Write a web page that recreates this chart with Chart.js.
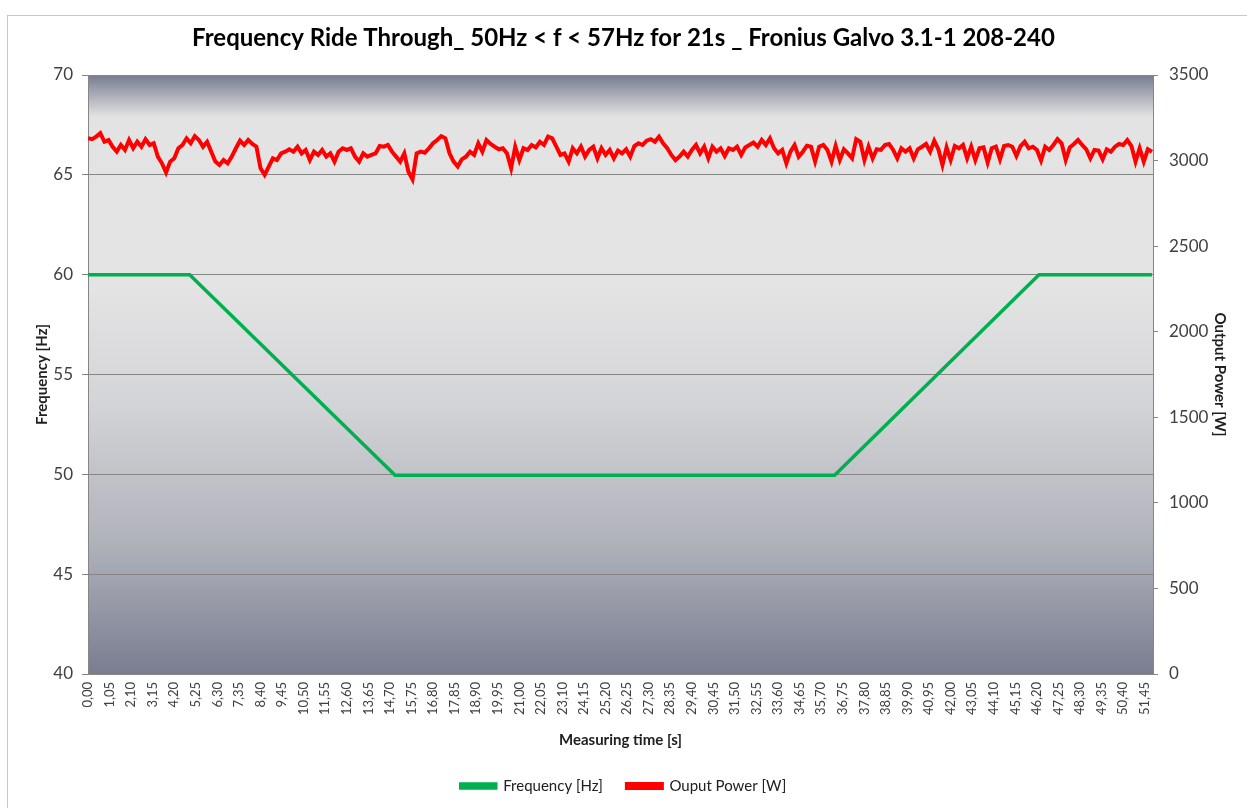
<!DOCTYPE html>
<html>
<head>
<meta charset="utf-8">
<script src="https://cdn.jsdelivr.net/npm/chart.js@4/dist/chart.umd.min.js"></script>
<style>
  html, body { margin: 0; padding: 0; background: #fff; }
  #wrap { position: relative; width: 1247px; height: 808px; }
</style>
</head>
<body>
<div id="wrap"><canvas id="myChart" width="1247" height="808"></canvas></div>
<script>
// frequency profile (s, Hz)
const freqTime = [0, 4.95, 14.95, 36.35, 46.3, 51.8]
const freqHz = [60, 60, 49.95, 49.95, 60, 60]

// output power, one reading every 0.2 s from 0 s (W)
const powerStep = 0.2
const powerW = [
  3130,3125,3140,3160,3110,3120,3081,3052,3091,3062,
  3120,3072,3110,3081,3125,3091,3101,3023,2984,2930,
  2994,3013,3072,3091,3130,3101,3143,3120,3081,3110,
  3052,2994,2974,3003,2984,3023,3072,3116,3091,3120,
  3097,3081,2955,2916,2965,3013,3003,3042,3052,3066,
  3052,3081,3042,3062,3003,3052,3033,3062,3023,3042,
  2994,3052,3072,3062,3072,3023,2994,3042,3023,3033,
  3042,3085,3081,3091,3052,3023,2994,3042,2935,2890,
  3042,3052,3046,3072,3101,3120,3143,
  3130,3042,2994,
  2965,3007,3023,3052,3033,3101,3052,3120,3097,3081,
  3066,3072,3042,2955,3081,3003,3072,3062,3091,3077,
  3110,3091,3140,3130,3081,3033,3042,2994,3072,3042,
  3081,3023,3062,3081,3013,3072,3033,3062,3013,3058,
  3042,3066,3023,3085,3101,3091,3116,3125,3110,3140,
  3101,3072,3033,3003,3023,3052,3023,3062,3091,3042,
  3081,3013,3081,3052,3072,3027,3072,3062,3081,3033,
  3077,3091,3105,3081,3120,3091,3130,3072,3042,3062,
  2984,3052,3091,3023,
  3052,3087,3081,2994,3081,3091,
  3062,2994,3085,3003,3066,3042,3013,3125,3110,3003,
  3081,3013,3066,3062,3091,3097,3062,3013,3072,3052,
  3072,3013,3066,3081,3097,3052,3116,3066,2974,3077,
  3003,3085,3072,3091,3013,3081,3003,3072,3077,2988,
  3072,3081,3007,3085,3091,3081,3027,3085,3110,3072,
  3081,3062,3000,3081,3062,3091,3125,3101,3003,3077,
  3097,3120,3091,3066,3013,3062,3058,3007,3066,3052,
  3081,3097,3091,3120,3085,2994,3072,2994,3066,3052
]

const xTickValues = [
  0, 1.05, 2.10, 3.15, 4.20, 5.25, 6.30, 7.35, 8.40, 9.45,
  10.50, 11.55, 12.60, 13.65, 14.70, 15.75, 16.80, 17.85, 18.90, 19.95,
  21.00, 22.05, 23.10, 24.15, 25.20, 26.25, 27.30, 28.35, 29.40, 30.45,
  31.50, 32.55, 33.60, 34.65, 35.70, 36.75, 37.80, 38.85, 39.90, 40.95,
  42.00, 43.05, 44.10, 45.15, 46.20, 47.25, 48.30, 49.35, 50.40, 51.45
]

const freqPoints = freqTime.map((t, i) => ({x: t, y: freqHz[i]}))
const powerPoints = powerW.map((w, i) => ({x: +(i * powerStep).toFixed(2), y: w}))

const axisGray = '#868686'
const tickColor = '#404040'
const titleFont = {family: 'Lato', size: 15, weight: 'bold'}

const plotBackground = {
  id: 'plotBackground',
  beforeDraw(chart) {
    const {ctx, chartArea: a} = chart
    ctx.save()
    ctx.strokeStyle = '#c8c8c8'
    ctx.lineWidth = 1
    ctx.strokeRect(7.5, 15.5, 1300, 900)
    const g = ctx.createLinearGradient(0, a.top, 0, a.bottom)
    g.addColorStop(0, '#767b8f')
    g.addColorStop(0.07, '#e3e3e3')
    g.addColorStop(0.35, '#e4e4e4')
    g.addColorStop(0.55, '#d3d4d7')
    g.addColorStop(0.78, '#b0b2ba')
    g.addColorStop(1, '#797d90')
    ctx.fillStyle = g
    ctx.fillRect(a.left, a.top, a.right - a.left, a.bottom - a.top)
    ctx.restore()
  }
}

const ctx = document.getElementById('myChart').getContext('2d')
const myChart = new Chart(ctx, {
  type: 'line',
  data: {
    datasets: [
      {
        label: 'Frequency [Hz]',
        data: freqPoints,
        yAxisID: 'y',
        borderColor: '#00b050',
        backgroundColor: '#00b050',
        borderWidth: 3.5,
        pointRadius: 0,
        tension: 0
      },
      {
        label: 'Ouput Power [W]',
        data: powerPoints,
        yAxisID: 'y1',
        borderColor: '#ff0000',
        backgroundColor: '#ff0000',
        borderWidth: 4,
        pointRadius: 0,
        tension: 0
      }
    ]
  },
  options: {
    responsive: false,
    animation: false,
    devicePixelRatio: 1,
    layout: {padding: {left: 10, right: 10, top: 0, bottom: 4.5}},
    plugins: {
      title: {
        display: true,
        text: 'Frequency Ride Through_ 50Hz < f < 57Hz for 21s _ Fronius Galvo 3.1-1 208-240',
        color: '#000',
        font: {family: 'Lato', size: 24, weight: 'bold'},
        padding: {top: 23.6, bottom: 22.6}
      },
      legend: {
        position: 'bottom',
        labels: {
          color: '#202020',
          font: {family: 'Lato', size: 15},
          boxWidth: 35,
          boxHeight: 4,
          padding: 24
        }
      },
      tooltip: {enabled: false}
    },
    scales: {
      x: {
        type: 'linear',
        min: 0,
        max: 51.85,
        afterBuildTicks: (scale) => { scale.ticks = xTickValues.map(v => ({value: v})) },
        afterFit: (scale) => { scale.height = 80.5 },
        grid: {display: false, drawTicks: false},
        border: {display: true, color: axisGray, width: 1},
        ticks: {
          autoSkip: false,
          minRotation: 90,
          maxRotation: 90,
          padding: 8,
          color: tickColor,
          font: {family: 'Lato', size: 13},
          callback: (v) => v.toFixed(2).replace('.', ',')
        },
        title: {
          display: true,
          text: 'Measuring time [s]',
          color: '#202020',
          font: titleFont,
          padding: {top: 4, bottom: 5.5}
        }
      },
      y: {
        position: 'left',
        min: 40,
        max: 70,
        afterFit: (scale) => { scale.width = 78 },
        ticks: {stepSize: 5, padding: 9, color: tickColor, font: {family: 'Lato', size: 17}},
        grid: {color: axisGray, lineWidth: 1, tickLength: 6},
        border: {display: true, color: axisGray, width: 1},
        title: {
          display: true,
          text: 'Frequency [Hz]',
          color: '#202020',
          font: titleFont,
          padding: {top: 23, bottom: 0}
        }
      },
      y1: {
        position: 'right',
        min: 0,
        max: 3500,
        afterFit: (scale) => { scale.width = 84 },
        ticks: {
          stepSize: 500,
          padding: 11,
          color: tickColor,
          font: {family: 'Lato', size: 17},
          callback: (v) => String(v)
        },
        grid: {drawOnChartArea: false, color: axisGray, tickLength: 5},
        border: {display: true, color: axisGray, width: 1},
        title: {
          display: true,
          text: 'Output Power [W]',
          color: '#202020',
          font: titleFont,
          padding: {top: 8, bottom: 0}
        }
      }
    }
  },
  plugins: [plotBackground]
})
</script>
</body>
</html>
